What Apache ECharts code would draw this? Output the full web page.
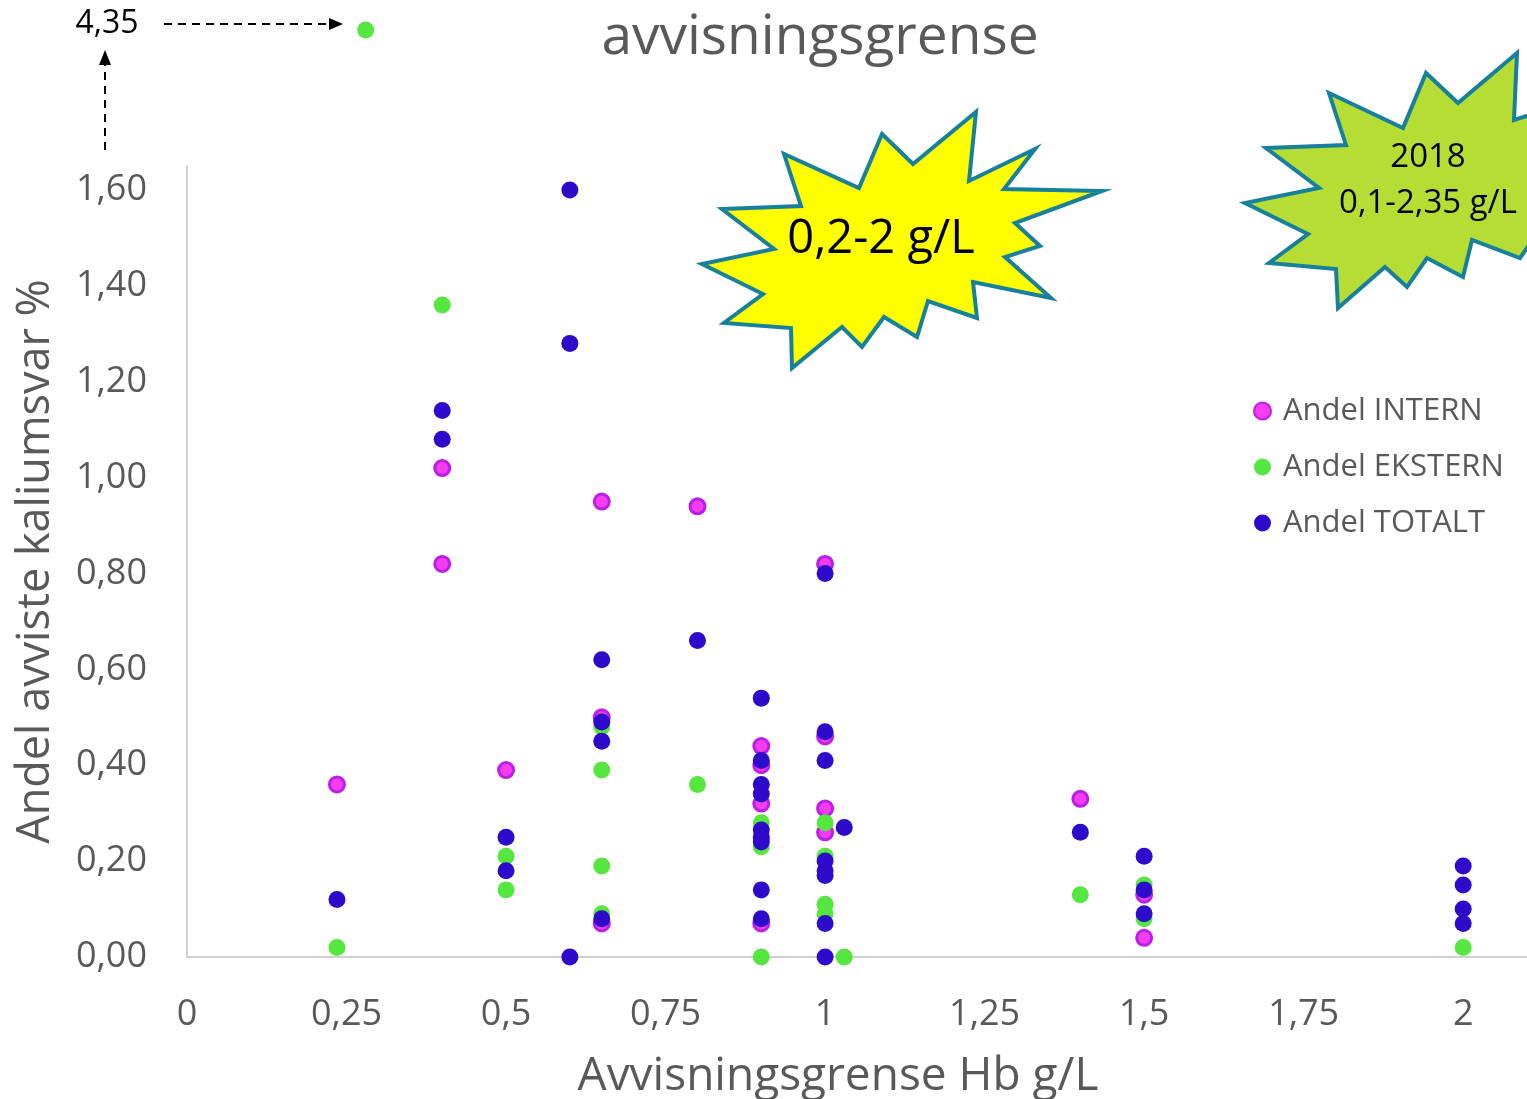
<!DOCTYPE html>
<html>
<head>
<meta charset="utf-8">
<script src="https://cdn.jsdelivr.net/npm/echarts@6/dist/echarts.min.js"></script>
<style>
  html, body { margin: 0; padding: 0; background: #fff; }
  #chart { width: 1527px; height: 1099px; }
</style>
</head>
<body>
<div id="chart"></div>
<script>
// verdier lest av figuren: [avvisningsgrense g/L, andel %]
const internData = [
  [0.235, 0.36], [0.4, 1.02], [0.4, 0.82], [0.5, 0.39],
  [0.65, 0.95], [0.65, 0.50], [0.65, 0.07], [0.8, 0.94],
  [0.9, 0.44], [0.9, 0.40], [0.9, 0.32], [0.9, 0.07],
  [1.0, 0.82], [1.0, 0.46], [1.0, 0.31], [1.0, 0.26],
  [1.4, 0.33], [1.5, 0.13], [1.5, 0.04]
]
const eksternData = [
  [0.235, 0.02], [0.4, 1.36], [0.5, 0.21], [0.5, 0.14],
  [0.65, 0.48], [0.65, 0.39], [0.65, 0.19], [0.65, 0.09],
  [0.8, 0.36], [0.9, 0.28], [0.9, 0.23], [0.9, 0.0],
  [1.0, 0.28], [1.0, 0.21], [1.0, 0.11], [1.0, 0.09], [1.03, 0.0],
  [1.4, 0.13], [1.5, 0.15], [1.5, 0.08], [2.0, 0.02]
]
// uteligger utenfor aksen
const eksternOutlier = [[0.28, 4.35]]
const totaltData = [
  [0.235, 0.12], [0.4, 1.14], [0.4, 1.08], [0.5, 0.25], [0.5, 0.18],
  [0.6, 1.60], [0.6, 1.28], [0.6, 0.0],
  [0.65, 0.62], [0.65, 0.49], [0.65, 0.45], [0.65, 0.08], [0.8, 0.66],
  [0.9, 0.54], [0.9, 0.41], [0.9, 0.36], [0.9, 0.34], [0.9, 0.265],
  [0.9, 0.25], [0.9, 0.24], [0.9, 0.14], [0.9, 0.08],
  [1.0, 0.80], [1.0, 0.47], [1.0, 0.41], [1.0, 0.20], [1.0, 0.18],
  [1.0, 0.17], [1.0, 0.07], [1.0, 0.0], [1.03, 0.27],
  [1.4, 0.26], [1.5, 0.21], [1.5, 0.14], [1.5, 0.09],
  [2.0, 0.19], [2.0, 0.15], [2.0, 0.10], [2.0, 0.07]
]
const seriesNames = ['Andel INTERN', 'Andel EKSTERN', 'Andel TOTALT']

const FONT = 'Open Sans'
const GREY = '#595959'
const comma = (v, d) => v.toFixed(d).replace('.', ',')

const yellowStar = [[976,112],[969,181],[1035,149],[1004,189],[1102,191],[1015,223],[1040,246],[1005,257],[1051,298],[973,282],[977,318],[928,301],[917,337],[884,317],[862,347],[842,327],[792,368],[791,328],[724,323],[763,294],[702,264],[774,249],[722,209],[801,206],[784,154],[859,188],[882,134],[913,164]]
const greenStar = [[1517,53],[1514,120],[1545,110],[1545,222],[1520,258],[1472,240],[1463,277],[1427,258],[1407,287],[1385,267],[1338,308],[1336,269],[1269,263],[1308,234],[1245,203],[1319,188],[1266,148],[1346,145],[1329,93],[1403,128],[1426,73],[1458,103]]

let myChart = echarts.init(document.getElementById('chart'))
let option = {
  backgroundColor: '#fff',
  animation: false,
  textStyle: { fontFamily: FONT },
  title: {
    text: 'avvisningsgrense',
    left: 815, top: 6, textAlign: 'center',
    textStyle: { fontFamily: FONT, fontSize: 55, fontWeight: 'normal', color: GREY }
  },
  legend: {
    data: seriesNames,
    orient: 'vertical',
    left: 1253, top: 393, padding: 0,
    itemWidth: 17, itemHeight: 17, itemGap: 20,
    icon: 'circle',
    textStyle: { fontFamily: FONT, fontSize: 31, color: GREY, lineHeight: 36, padding: [0, 0, 0, 7] }
  },
  grid: [
    { left: 187, width: 1340, top: 166, bottom: 142, outerBoundsMode: 'none' },
    { left: 187, width: 1340, top: 0, height: 60, outerBoundsMode: 'none' }
  ],
  xAxis: [{
    type: 'value', min: 0, max: 2.1, interval: 0.25,
    name: 'Avvisningsgrense Hb g/L', nameLocation: 'middle', nameGap: 97,
    nameTextStyle: { fontFamily: FONT, fontSize: 46, color: GREY, padding: [0, 38, 0, 0] },
    axisLine: { show: true, lineStyle: { color: '#d0d0d0', width: 2 } },
    axisTick: { show: false },
    splitLine: { show: false },
    axisLabel: {
      fontFamily: FONT, fontSize: 36, color: GREY, margin: 40,
      formatter: v => (Math.abs(v * 4 - Math.round(v * 4)) < 1e-6 && v <= 2) ? String(+v.toFixed(2)).replace('.', ',') : ''
    }
  }, {
    gridIndex: 1, type: 'value', min: 0, max: 2.1, show: false
  }],
  yAxis: [{
    type: 'value', min: 0, max: 1.65, interval: 0.2,
    name: 'Andel avviste kaliumsvar %', nameLocation: 'middle', nameGap: 128,
    nameTextStyle: { fontFamily: FONT, fontSize: 45, color: GREY },
    axisLine: { show: true, lineStyle: { color: '#d0d0d0', width: 2 } },
    axisTick: { show: false },
    splitLine: { show: false },
    axisLabel: {
      fontFamily: FONT, fontSize: 36, color: GREY, margin: 40,
      formatter: v => v <= 1.6 + 1e-6 ? comma(v, 2) : ''
    }
  }, {
    gridIndex: 1, type: 'value', min: 4.3, max: 4.4, show: false
  }],
  series: [
    {
      name: seriesNames[0], type: 'scatter', data: internData, symbolSize: 15,
      itemStyle: { color: '#f43cf0', borderColor: '#bb1ee8', borderWidth: 3, opacity: 1 }
    },
    {
      name: seriesNames[1], type: 'scatter', data: eksternData, symbolSize: 17,
      itemStyle: { color: '#55e640', opacity: 1 }
    },
    {
      name: seriesNames[1], type: 'scatter', data: eksternOutlier, symbolSize: 17,
      xAxisIndex: 1, yAxisIndex: 1,
      itemStyle: { color: '#55e640', opacity: 1 }
    },
    {
      name: seriesNames[2], type: 'scatter', data: totaltData, symbolSize: 17,
      itemStyle: { color: '#2e0acb', opacity: 1 }
    }
  ],
  graphic: [
    {
      type: 'polygon', z: 10, shape: { points: yellowStar },
      style: { fill: '#ffff00', stroke: '#17809c', lineWidth: 4, lineJoin: 'miter' }
    },
    {
      type: 'text', z: 11, x: 881, y: 240,
      style: { text: '0,2-2 g/L', fontFamily: FONT, fontSize: 47, fill: '#000', align: 'center', verticalAlign: 'middle' }
    },
    {
      type: 'polygon', z: 10, shape: { points: greenStar },
      style: { fill: '#b5dd33', stroke: '#17809c', lineWidth: 4, lineJoin: 'miter' }
    },
    {
      type: 'text', z: 11, x: 1428, y: 158,
      style: { text: '2018', fontFamily: FONT, fontSize: 33, fill: '#000', align: 'center', verticalAlign: 'middle' }
    },
    {
      type: 'text', z: 11, x: 1428, y: 204,
      style: { text: '0,1-2,35 g/L', fontFamily: FONT, fontSize: 33, fill: '#000', align: 'center', verticalAlign: 'middle' }
    },
    {
      type: 'text', z: 11, x: 107, y: 24,
      style: { text: '4,35', fontFamily: FONT, fontSize: 32, fill: '#000', align: 'center', verticalAlign: 'middle' }
    },
    {
      type: 'line', z: 11, shape: { x1: 164, y1: 24, x2: 330, y2: 24 },
      style: { stroke: '#000', lineWidth: 2, lineDash: [8, 6] }
    },
    {
      type: 'polygon', z: 11, shape: { points: [[329, 18], [343, 24], [329, 30]] },
      style: { fill: '#000' }
    },
    {
      type: 'line', z: 11, shape: { x1: 105, y1: 150, x2: 105, y2: 64 },
      style: { stroke: '#000', lineWidth: 2, lineDash: [8, 6] }
    },
    {
      type: 'polygon', z: 11, shape: { points: [[99, 65], [105, 50], [111, 65]] },
      style: { fill: '#000' }
    }
  ]
}
myChart.setOption(option)
window.addEventListener('resize', () => { myChart.resize() })
</script>
</body>
</html>
